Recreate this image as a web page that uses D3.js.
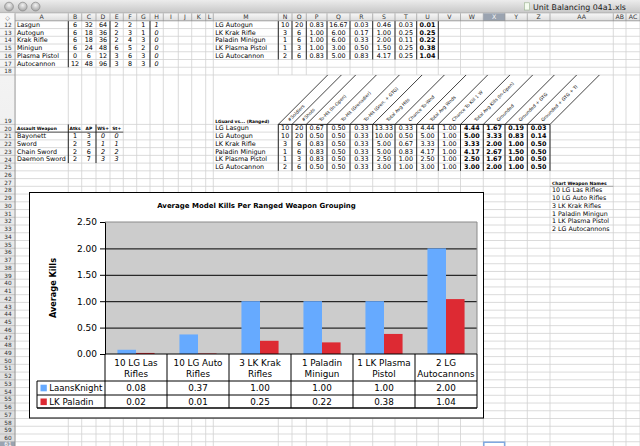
<!DOCTYPE html>
<html><head><meta charset="utf-8">
<script src="https://cdn.jsdelivr.net/npm/d3@7"></script>
<style>
body{margin:0;background:#fff;overflow:hidden}
svg{display:block;font-family:"DejaVu Sans",Verdana,sans-serif}
</style>
</head><body>
<svg id="c" width="640" height="446"></svg>
<script>
// ---------------- chart data ----------------
const categories = [["10 LG Las","Rifles"],["10 LG Auto","Rifles"],["3 LK Krak","Rifles"],["1 Paladin","Minigun"],["1 LK Plasma","Pistol"],["2 LG","Autocannons"]];
const seriesNames = ["LaansKnight","LK Paladin"];
const laansKnight = [0.08,0.37,1.00,1.00,1.00,2.00];
const lkPaladin = [0.02,0.01,0.25,0.22,0.38,1.04];
const yTicks = [0,0.5,1,1.5,2,2.5];
const chartTitle = "Average Model Kills Per Ranged Weapon Grouping";
const yTitle = "Average Kills";

// ---------------- spreadsheet data ----------------
const weaponsA = ["Lasgun","Autogun","Krak Rifle","Minigun","Plasma Pistol","Autocannon"];
const weaponStats = [[6,32,64,2,2,1,1],[6,18,36,2,3,1,0],[6,18,36,2,4,3,0],[6,24,48,6,5,2,0],[0,6,12,3,6,3,0],[12,48,96,3,8,3,0]];
const rangedUnits = ["LG Autogun","LK Krak Rifle","Paladin Minigun","LK Plasma Pistol","LG Autocannon"];
const rangedStats = [
 ["10","20","0.83","16.67","0.03","0.46","0.03","0.01"],
 ["3","6","1.00","6.00","0.17","1.00","0.25","0.25"],
 ["1","6","1.00","6.00","0.33","2.00","0.11","0.22"],
 ["1","3","1.00","3.00","0.50","1.50","0.25","0.38"],
 ["2","6","0.83","5.00","0.83","4.17","0.25","1.04"]];
const assaultTitle = "Assault Weapon";
const assaultHeaders = ["Atks","AP","WS+","St+"];
const assaultWeapons = ["Bayonett","Sword","Chain Sword","Daemon Sword"];
const assaultStats = [[1,3,0,0],[2,5,1,1],[2,6,2,2],[2,7,3,3]];
const vsTitle = "LGuard vs... (Ranged)";
const vsHeaders = ["#Soldiers","#Shots","To-Hit (In-Open)","To-Hit (Grenadier)","To-Hit (Gren. + GTG)","Total Avg Hits","Chance To-Wnd","Total Avg Wnds","Chance To Kill 1 W","Total Avg Kills (In-Open)","Grounded","Grounded + GTG","Grounded + GTG + TI"];
const vsUnits = ["LG Lasgun","LG Autogun","LK Krak Rifle","Paladin Minigun","LK Plasma Pistol","LG Autocannon"];
const vsStats = [
 ["10","20","0.67","0.50","0.33","13.33","0.33","4.44","1.00","4.44","1.67","0.19","0.03"],
 ["10","20","0.50","0.50","0.33","10.00","0.50","5.00","1.00","5.00","3.33","0.83","0.14"],
 ["3","6","0.83","0.50","0.33","5.00","0.67","3.33","1.00","3.33","2.00","1.00","0.50"],
 ["1","6","0.83","0.50","0.33","5.00","0.83","4.17","1.00","4.17","2.67","1.50","0.50"],
 ["1","3","0.83","0.50","0.33","2.50","1.00","2.50","1.00","2.50","1.67","1.00","0.50"],
 ["2","6","0.50","0.50","0.33","3.00","1.00","3.00","1.00","3.00","2.00","1.00","0.50"]];
const namesTitle = "Chart Weapon Names";
const chartWeaponNames = ["10 LG Las Rifles","10 LG Auto Rifles","3 LK Krak Rifles","1 Paladin Minigun","1 LK Plasma Pistol","2 LG Autocannons"];
const windowTitle = "Unit Balancing 04a1.xls";

// ---------------- layout ----------------
const svg = d3.select("#c");
const colNames = d3.range(29).map(i => i < 26 ? String.fromCharCode(65+i) : "A"+String.fromCharCode(65+i-26));
const colEdges = [15,68.3,81.7,96,110,123.3,136.7,150,163.3,178.3,191.7,205.7,213.3,278.3,292,306.3,327,350,372.7,395,416.7,438.3,460.5,483.3,505,527.3,550,613.3,626,640];
const ci = n => colNames.indexOf(n);
const colX = n => [colEdges[ci(n)], colEdges[ci(n)+1]];
const rowTop = n => n <= 19 ? 20.8 + (n-12)*7.74 : 124.4 + (n-20)*7.74;
const rowBot = n => n === 19 ? 124.4 : rowTop(n+1);
const rows = d3.range(12, 62);
const GRID = "#d2d2d2";

const sheet = svg.append("g");
sheet.selectAll("line.h").data(rows).join("line")
  .attr("x1",15).attr("x2",640).attr("y1",d=>rowBot(d)).attr("y2",d=>rowBot(d))
  .attr("stroke",GRID).attr("stroke-width",0.8);
colEdges.forEach(x => {
  if (x >= 278 && x <= 600) {
    sheet.append("line").attr("x1",x).attr("x2",x).attr("y1",20.8).attr("y2",rowTop(19)).attr("stroke",GRID).attr("stroke-width",0.8);
    sheet.append("line").attr("x1",x).attr("x2",x).attr("y1",124.4).attr("y2",446).attr("stroke",GRID).attr("stroke-width",0.8);
  } else {
    sheet.append("line").attr("x1",x).attr("x2",x).attr("y1",20.8).attr("y2",446).attr("stroke",GRID).attr("stroke-width",0.8);
  }
});

function cell(c, r, text, o = {}) {
  const [x0, x1] = colX(c);
  const anchor = o.anchor || "middle";
  const x = anchor === "start" ? x0 + 2 : anchor === "end" ? x1 - 2 : (x0 + x1) / 2;
  return sheet.append("text").attr("x", x).attr("y", rowBot(r) - 1.7)
    .attr("text-anchor", anchor).attr("font-size", o.size || 6.4)
    .attr("font-weight", o.bold ? "bold" : "normal")
    .attr("font-style", o.italic ? "italic" : "normal")
    .attr("fill", "#000").text(text);
}
function vline(x, y0, y1, w = 0.9) {
  sheet.append("line").attr("x1",x).attr("x2",x).attr("y1",y0).attr("y2",y1).attr("stroke","#111").attr("stroke-width",w);
}
function hline(x0, x1, y, w = 0.9, col = "#111") {
  sheet.append("line").attr("x1",x0).attr("x2",x1).attr("y1",y).attr("y2",y).attr("stroke",col).attr("stroke-width",w);
}

weaponsA.forEach((w, i) => {
  const r = 12 + i;
  cell("A", r, w, {anchor: "start"});
  weaponStats[i].forEach((v, j) => cell(colNames[1 + j], r, v, {italic: j === 6}));
});
[68.3, 110, 150].forEach(x => vline(x, rowTop(12), rowBot(17)));

rangedUnits.forEach((u, i) => {
  const r = 12 + i;
  cell("M", r, u, {anchor: "start"});
  rangedStats[i].forEach((v, j) => cell(colNames[ci("N") + j], r, v, {bold: j === 7}));
});
d3.range(ci("N"), ci("V") + 1).forEach(k => vline(colEdges[k], rowTop(12), rowBot(16)));

cell("A", 20, assaultTitle, {anchor: "start", bold: true, size: 4.4});
assaultHeaders.forEach((h, j) => cell(colNames[1 + j], 20, h, {bold: true, size: 4.4}));
assaultWeapons.forEach((w, i) => {
  const r = 21 + i;
  cell("A", r, w, {anchor: "start"});
  assaultStats[i].forEach((v, j) => cell(colNames[1 + j], r, v, {italic: j >= 2}));
});
hline(15, 123.3, rowBot(20), 0.7);
[68.3, 96].forEach(x => vline(x, rowTop(20), rowBot(24)));

cell("M", 19, vsTitle, {anchor: "start", bold: true, size: 4.4});
vsHeaders.forEach((h, j) => {
  const k = ci("N") + j;
  const x0 = colEdges[k], x1 = colEdges[k + 1], w = x1 - x0;
  const hgt = 3.6;
  sheet.append("text")
    .attr("transform", `translate(${x0 + w/2 + hgt},${124.4 - hgt}) rotate(-45)`)
    .attr("font-size", 4.5).attr("dominant-baseline", "middle").attr("fill", "#111").text(h);
});
d3.range(ci("N"), ci("AA") + 1).forEach(k => {
  const x = colEdges[k];
  sheet.append("line").attr("x1", x).attr("y1", 124.4).attr("x2", x + 49.4).attr("y2", rowTop(19))
    .attr("stroke", "#111").attr("stroke-width", 0.8);
});
vsUnits.forEach((u, i) => {
  const r = 20 + i;
  cell("M", r, u, {anchor: "start"});
  vsStats[i].forEach((v, j) => cell(colNames[ci("N") + j], r, v, {bold: j >= 9}));
});
hline(278.3, 550, 124.4, 0.9);
d3.range(ci("N"), ci("AA") + 1).forEach(k => vline(colEdges[k], 124.4, rowBot(25)));

cell("AA", 27, namesTitle, {anchor: "start", bold: true, size: 4.5});
hline(550, 613.3, rowBot(27), 0.8, "#999");
chartWeaponNames.forEach((n, i) => cell("AA", 28 + i, n, {anchor: "start", size: 6.3}));

sheet.append("rect").attr("x", 483.8).attr("y", rowTop(61) + 0.5).attr("width", 20.8).attr("height", 10)
  .attr("fill", "none").attr("stroke", "#7fa8e0").attr("stroke-width", 1.5);

// ---------------- window chrome ----------------
const chrome = svg.append("g");
const defs = svg.append("defs");
const tg = defs.append("linearGradient").attr("id","tb").attr("x1",0).attr("x2",0).attr("y1",0).attr("y2",1);
tg.append("stop").attr("offset",0).attr("stop-color","#ececec");
tg.append("stop").attr("offset",1).attr("stop-color","#c6c6c6");
const hg = defs.append("linearGradient").attr("id","hb").attr("x1",0).attr("x2",0).attr("y1",0).attr("y2",1);
hg.append("stop").attr("offset",0).attr("stop-color","#f7f7f7");
hg.append("stop").attr("offset",1).attr("stop-color","#dcdcdc");
const bg = defs.append("radialGradient").attr("id","btn").attr("cx","50%").attr("cy","35%").attr("r","60%");
bg.append("stop").attr("offset",0).attr("stop-color","#f2f2f2");
bg.append("stop").attr("offset",1).attr("stop-color","#a8a8a8");

function fit(sel, w) {
  const l = sel.node().getComputedTextLength();
  const fs = parseFloat(sel.attr("font-size"));
  sel.attr("font-size", fs * w / l);
}

chrome.append("rect").attr("x",0).attr("y",0).attr("width",640).attr("height",13.3).attr("fill","url(#tb)");
chrome.append("line").attr("x1",0).attr("x2",640).attr("y1",13.3).attr("y2",13.3).attr("stroke","#7a7a7a").attr("stroke-width",0.8);
[9, 22.7, 35.6].forEach(cx => chrome.append("circle").attr("cx",cx).attr("cy",6.6).attr("r",4.4)
  .attr("fill","url(#btn)").attr("stroke","#8a8a8a").attr("stroke-width",0.7));
chrome.append("rect").attr("x",524.5).attr("y",2.8).attr("width",5).attr("height",7.2).attr("fill","#f4fbef").attr("stroke","#9bb38f").attr("stroke-width",0.6);
const wt = chrome.append("text").attr("x",533).attr("y",10.2).attr("font-size",8.2).attr("fill","#1a1a1a").text(windowTitle);
fit(wt, 93);

chrome.append("rect").attr("x",0).attr("y",13.3).attr("width",640).attr("height",7.5).attr("fill","url(#hb)");
colNames.forEach((n, i) => {
  const x0 = colEdges[i], x1 = colEdges[i+1];
  if (n === "X") chrome.append("rect").attr("x",x0).attr("y",13.3).attr("width",x1-x0).attr("height",7.5).attr("fill","#9aa3b0");
  chrome.append("text").attr("x",(x0+x1)/2).attr("y",19.4).attr("text-anchor","middle").attr("font-size",6.2)
    .attr("fill", n === "X" ? "#fff" : "#333").text(n);
  chrome.append("line").attr("x1",x1).attr("x2",x1).attr("y1",13.3).attr("y2",20.8).attr("stroke","#9a9a9a").attr("stroke-width",0.7);
});
chrome.append("line").attr("x1",0).attr("x2",640).attr("y1",20.8).attr("y2",20.8).attr("stroke","#8c8c8c").attr("stroke-width",0.8);

chrome.append("rect").attr("x",0).attr("y",13.3).attr("width",15).attr("height",446).attr("fill","url(#hb)");
chrome.append("text").attr("x",7.5).attr("y",19.5).attr("text-anchor","middle").attr("font-size",6).attr("fill","#555").text("◇");
rows.forEach(r => {
  if (r === 61) chrome.append("rect").attr("x",0).attr("y",rowTop(r)).attr("width",15).attr("height",7.74).attr("fill","#9aa3b0");
  chrome.append("text").attr("x",8).attr("y",Math.min(rowBot(r) - 1.6, 445.5)).attr("text-anchor","middle").attr("font-size",5.8)
    .attr("fill", r === 61 ? "#fff" : "#333").text(r);
  chrome.append("line").attr("x1",0).attr("x2",15).attr("y1",rowBot(r)).attr("y2",rowBot(r)).attr("stroke","#a8a8a8").attr("stroke-width",0.6);
});
chrome.append("line").attr("x1",15).attr("x2",15).attr("y1",13.3).attr("y2",446).attr("stroke","#8c8c8c").attr("stroke-width",0.8);

// ---------------- chart ----------------
const ch = svg.append("g");
const P = {x0: 105, x1: 477, y0: 222, y1: 354};
const T = {head: 381, r1: 395, r2: 408, legX: 37};
ch.append("rect").attr("x",29.5).attr("y",192.5).attr("width",454).attr("height",225.5)
  .attr("fill","#fff").attr("stroke","#000").attr("stroke-width",1);

const x = d3.scaleBand().domain(d3.range(categories.length)).range([P.x0, P.x1]);
const xs = d3.scaleBand().domain(d3.range(seriesNames.length)).range([0, x.bandwidth()]).paddingOuter(0.67).paddingInner(0);
const y = d3.scaleLinear().domain([0, 2.5]).range([P.y1, P.y0]);
const series = [laansKnight, lkPaladin];
const colors = ["#66aaff", "#dd2a33"];

ch.append("rect").attr("x",P.x0).attr("y",P.y0).attr("width",P.x1-P.x0).attr("height",P.y1-P.y0).attr("fill","#cccccc");
const gridG = ch.append("g").attr("transform",`translate(${P.x0},0)`)
  .call(d3.axisLeft(y).tickValues(yTicks.filter(v => v > 0 && v < 2.5)).tickSize(-(P.x1-P.x0)).tickFormat(""));
gridG.select(".domain").remove();
gridG.selectAll("line").attr("stroke","#000").attr("stroke-width",1);
ch.append("line").attr("x1",P.x0).attr("x2",P.x1).attr("y1",P.y0).attr("y2",P.y0).attr("stroke","#8a8a8a");
ch.append("line").attr("x1",P.x1).attr("x2",P.x1).attr("y1",P.y0).attr("y2",P.y1).attr("stroke","#8a8a8a");

series.forEach((vals, s) => {
  ch.append("g").selectAll("rect").data(vals).join("rect")
    .attr("x", (d, i) => x(i) + xs(s))
    .attr("y", d => y(d))
    .attr("width", xs.bandwidth())
    .attr("height", d => y(0) - y(d))
    .attr("fill", colors[s]);
});

const ax = ch.append("g").attr("transform",`translate(${P.x0},0)`)
  .call(d3.axisLeft(y).tickValues(yTicks).tickSize(5).tickSizeOuter(0).tickPadding(3).tickFormat(d3.format(".2f")));
ax.select(".domain").attr("stroke","#000");
ax.selectAll("line").attr("stroke","#000");
ax.selectAll("text").attr("font-size",9).attr("font-family","DejaVu Sans").attr("fill","#000");

const tl = (x1, x2, y1, y2, w = 1) => ch.append("line").attr("x1",x1).attr("x2",x2).attr("y1",y1).attr("y2",y2).attr("stroke","#000").attr("stroke-width",w);
tl(P.x0, P.x1, P.y1, P.y1);
tl(T.legX, P.x1, T.head, T.head);
tl(T.legX, P.x1, T.r1, T.r1);
tl(T.legX, P.x1, T.r2, T.r2, 1.5);
tl(T.legX, T.legX, T.head, T.r2);
[...x.domain().map(i => x(i)), P.x1].forEach(xx => tl(xx, xx, P.y1, T.r2));

categories.forEach((c, i) => {
  const cx = x(i) + x.bandwidth() / 2;
  const t = ch.append("text").attr("text-anchor","middle").attr("font-size",8.8).attr("fill","#000");
  t.append("tspan").attr("x",cx).attr("y",365.5).text(c[0]);
  t.append("tspan").attr("x",cx).attr("y",376.6).text(c[1]);
});
series.forEach((vals, s) => {
  const yy = s === 0 ? 391.3 : 405.1;
  vals.forEach((v, i) => ch.append("text").attr("x", x(i) + x.bandwidth()/2).attr("y", yy)
    .attr("text-anchor","middle").attr("font-size",8.8).attr("fill","#000").text(d3.format(".2f")(v)));
  ch.append("rect").attr("x",40.5).attr("y", yy - 6.6).attr("width",6.3).attr("height",6.6).attr("fill",colors[s]);
  ch.append("text").attr("x",49.3).attr("y",yy).attr("font-size",8.6).attr("fill","#000").text(seriesNames[s]);
});

const tt = ch.append("text").attr("x",256.5).attr("y",208.4).attr("text-anchor","middle")
  .attr("font-size",8).attr("font-weight","bold").attr("fill","#000").text(chartTitle);
fit(tt, 199);
const yt = ch.append("text").attr("transform","translate(56.4,288) rotate(-90)").attr("text-anchor","middle")
  .attr("font-size",8.5).attr("font-weight","bold").attr("fill","#000").text(yTitle);
fit(yt, 60);
</script>
</body></html>
